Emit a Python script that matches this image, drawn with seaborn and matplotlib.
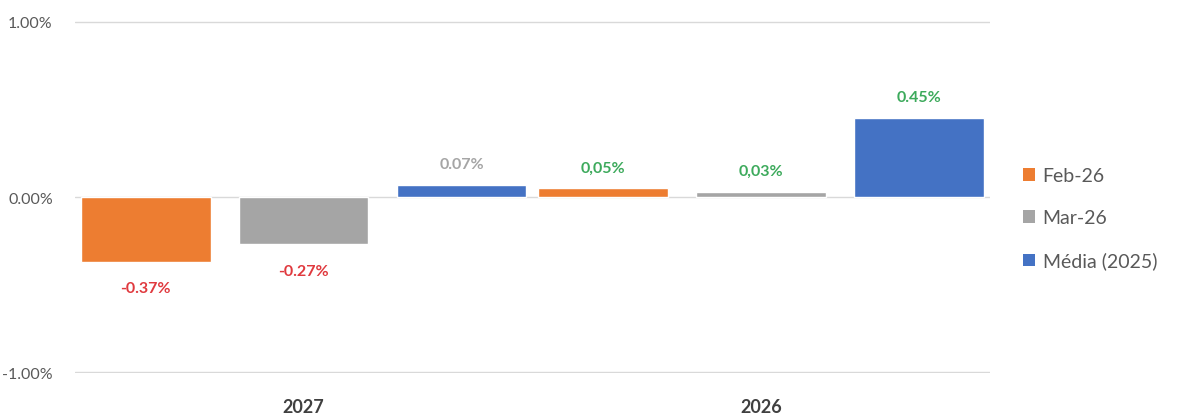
import pandas as pd
import seaborn as sns
import matplotlib.pyplot as plt
from matplotlib.patches import Patch

# chart data
anos = ['2027', '2026']
series = ['Feb-26', 'Mar-26', 'Média (2025)']
feb_26 = [-0.37, 0.05]
mar_26 = [-0.27, 0.03]
media_2025 = [0.07, 0.45]
rotulos = [['-0.37%', '0,05%'], ['-0.27%', '0,03%'], ['0.07%', '0.45%']]
cores_rotulo = [['#E0393E', '#3DAA5C'], ['#E0393E', '#3DAA5C'], ['#A5A5A5', '#3DAA5C']]
cores = ['#ED7D31', '#A5A5A5', '#4472C4']

df = pd.DataFrame({
    'ano': anos * 3,
    'serie': [s for s in series for _ in anos],
    'valor': feb_26 + mar_26 + media_2025,
})

sns.set_style('white')
plt.rcParams['font.family'] = ['Lato', 'DejaVu Sans']

fig = plt.figure(figsize=(11.79, 4.14), dpi=100)
ax = fig.add_axes([0.0636, 0.0966, 0.776, 0.850])

sns.barplot(data=df, x='ano', y='valor', hue='serie', order=anos, hue_order=series,
            palette=cores, width=1.036, gap=0.18, saturation=1, ax=ax, legend=False)

ax.set_ylim(-1.004, 1.004)
ax.set_xlim(-0.5, 1.5)
ax.set_yticks([-1, 0, 1])
ax.set_yticklabels([f'{v:.2f}%' for v in [-1, 0, 1]], color='#595959', fontsize=11.5)
ax.yaxis.grid(True, color='#D9D9D9', lw=1)
ax.set_axisbelow(True)
ax.tick_params(axis='y', length=0, pad=16)
ax.tick_params(axis='x', length=0, pad=18)
for lbl in ax.get_xticklabels():
    lbl.set_fontsize(13)
    lbl.set_fontweight('bold')
    lbl.set_color('#404040')
ax.set_xlabel('')
ax.set_ylabel('')
sns.despine(ax=ax, left=True, bottom=True)

# data labels
for i, cont in enumerate(ax.containers):
    for j, bar in enumerate(cont):
        h = bar.get_height()
        xc = bar.get_x() + bar.get_width() / 2
        off = 15 if h >= 0 else -19
        ax.annotate(rotulos[i][j], (xc, h), xytext=(0, off), textcoords='offset points',
                    ha='center', va='center', fontsize=11.5, fontweight='bold',
                    color=cores_rotulo[i][j])

handles = [Patch(facecolor=c, edgecolor='none') for c in cores]
fig.legend(handles, series, loc='center left', bbox_to_anchor=(0.853, 0.47),
           frameon=False, fontsize=14, labelcolor='#595959',
           handlelength=0.6, handleheight=0.6, handletextpad=0.4, labelspacing=1.3)

fig.savefig('out.png', dpi=100)
